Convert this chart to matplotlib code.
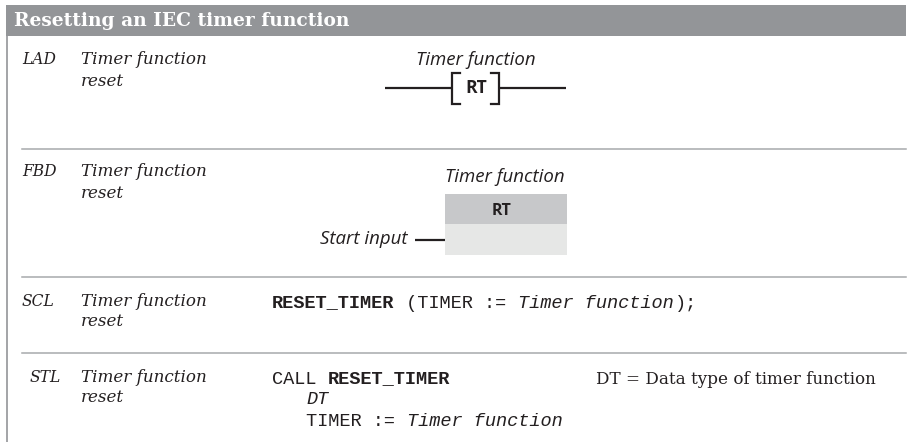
import matplotlib
matplotlib.use('Agg')
import matplotlib.pyplot as plt
from matplotlib.patches import Rectangle

# texts of the table
title = 'Resetting an IEC timer function'
languages = ['LAD', 'FBD', 'SCL', 'STL']
lang_x = [22, 22, 22, 30]
row_y = [60, 172, 301, 377]
row_text = ['Timer function', 'reset']
sep_y = [149, 277, 353]
operand = 'Timer function'
box_name = 'RT'
start_input = 'Start input'
note = 'DT = Data type of timer function'

GREY = '#939598'
INK = '#231f20'
SERIF = 'DejaVu Serif'
SANS = 'Open Sans'
MONO = 'Liberation Mono'
CHAR_W = 11.2

fig = plt.figure(figsize=(9.19, 4.42), dpi=100)
ax = fig.add_axes([0, 0, 1, 1])
ax.set_xlim(0, 919)
ax.set_ylim(442, 0)
ax.axis('off')


def px(size):
    return size * 0.72


def code(col_x, y, parts):
    # parts are (text, weight, style), one monospace run after the other
    x = col_x
    for txt, weight, style in parts:
        ax.text(x, y, txt, family=MONO, fontsize=px(18.6), weight=weight, style=style,
                color=INK, va='center', ha='left')
        x += len(txt) * CHAR_W


# header and frame
ax.add_patch(Rectangle((6, 5), 900, 31, fc=GREY, ec='none'))
ax.plot([6.5, 6.5], [36, 442], color=GREY, lw=1.2)
ax.text(14, 21, title, family=SERIF, fontsize=px(18.7), weight='bold', color='white',
        va='center', ha='left')

for y in sep_y:
    ax.plot([22, 906], [y, y], color='#a7a9ac', lw=1.1)

# left columns
for lang, x, y in zip(languages, lang_x, row_y):
    ax.text(x, y, lang, family=SERIF, style='italic', fontsize=px(15.5), color=INK,
            va='center', ha='left')
    ax.text(81, y, row_text[0], family=SERIF, style='italic', fontsize=px(16.8), color=INK,
            va='center', ha='left')
    ax.text(81, y + 21, row_text[1], family=SERIF, style='italic', fontsize=px(16.8), color=INK,
            va='center', ha='left')

# LAD
ax.text(476, 60, operand, family=SANS, style='italic', fontsize=px(18.6), color=INK,
        va='center', ha='center')
ax.plot([385, 452], [88, 88], color=INK, lw=1.6, solid_capstyle='butt')
ax.plot([500, 566], [88, 88], color=INK, lw=1.6, solid_capstyle='butt')
ax.plot([460, 452, 452, 460], [73, 73, 104, 104], color=INK, lw=1.6, solid_joinstyle='miter')
ax.plot([491, 499, 499, 491], [73, 73, 104, 104], color=INK, lw=1.6, solid_joinstyle='miter')
ax.text(476, 88, box_name, family=SANS, weight='bold', fontsize=px(17.5), color=INK,
        va='center', ha='center')

# FBD
ax.text(505, 177, operand, family=SANS, style='italic', fontsize=px(18.6), color=INK,
        va='center', ha='center')
ax.add_patch(Rectangle((445, 194), 122, 30, fc='#c7c8ca', ec='none'))
ax.add_patch(Rectangle((445, 224), 122, 31, fc='#e6e7e6', ec='none'))
ax.text(502, 211, box_name, family=SANS, weight='bold', fontsize=px(16), color=INK,
        va='center', ha='center')
ax.text(407, 239, start_input, family=SANS, style='italic', fontsize=px(18.6), color=INK,
        va='center', ha='right')
ax.plot([415, 445], [240, 240], color=INK, lw=1.6, solid_capstyle='butt')

# SCL
code(272, 303, [('RESET_TIMER', 'bold', 'normal'), (' (TIMER := ', 'normal', 'normal'),
                ('Timer function', 'normal', 'italic'), (');', 'normal', 'normal')])

# STL
code(272, 379, [('CALL ', 'normal', 'normal'), ('RESET_TIMER', 'bold', 'normal')])
code(306, 400, [('DT', 'normal', 'italic')])
code(306, 421, [('TIMER := ', 'normal', 'normal'), ('Timer function', 'normal', 'italic')])
ax.text(596, 379, note, family=SERIF, fontsize=px(16.8), color=INK, va='center', ha='left')

fig.savefig('out.png', dpi=100, facecolor='white')
